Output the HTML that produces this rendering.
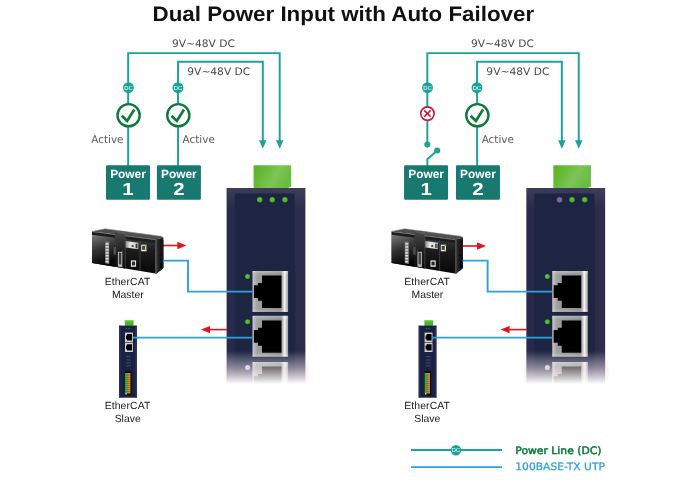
<!DOCTYPE html>
<html lang="en"><head><meta charset="utf-8"><title>Dual Power Input with Auto Failover</title>
<style>html,body{margin:0;padding:0;background:#fff}body{width:700px;height:483px;overflow:hidden}svg{display:block;will-change:transform}text{-webkit-font-smoothing:antialiased;text-rendering:geometricPrecision}</style>
</head><body>
<svg width="700" height="483" viewBox="0 0 700 483"><defs>
<linearGradient id="fade" x1="0" y1="0" x2="0" y2="1"><stop offset="0" stop-color="#fff" stop-opacity="0"/><stop offset="0.3" stop-color="#f3e6ec" stop-opacity=".5"/><stop offset="0.59" stop-color="#fff" stop-opacity="1"/><stop offset="1" stop-color="#fff" stop-opacity="1"/></linearGradient>
<linearGradient id="bodyg" x1="0" y1="0" x2="1" y2="0"><stop offset="0" stop-color="#272a4a"/><stop offset="0.5" stop-color="#282948"/><stop offset="1" stop-color="#2e2b4b"/></linearGradient>
<linearGradient id="greenblk" x1="0" y1="0" x2="1" y2="0.35"><stop offset="0" stop-color="#5ab228"/><stop offset="0.3" stop-color="#66b935"/><stop offset="0.65" stop-color="#7cc556"/><stop offset="1" stop-color="#6cbc44"/></linearGradient>
<linearGradient id="bodytop" x1="0" y1="0" x2="0" y2="1"><stop offset="0" stop-color="#fff" stop-opacity=".09"/><stop offset="1" stop-color="#fff" stop-opacity="0"/></linearGradient>
<radialGradient id="ledg" cx="0.45" cy="0.45" r="0.6"><stop offset="0" stop-color="#66c735"/><stop offset="0.6" stop-color="#52b32c"/><stop offset="1" stop-color="#3c9424"/></radialGradient>
<linearGradient id="portframe" x1="0" y1="0" x2="1" y2="0"><stop offset="0" stop-color="#c6c6c6"/><stop offset="0.13" stop-color="#a0a0a0"/><stop offset="0.8" stop-color="#8c8c8c"/><stop offset="0.905" stop-color="#f4f4f4"/><stop offset="1" stop-color="#9a9a9a"/></linearGradient>
<linearGradient id="portframev" x1="0" y1="0" x2="0" y2="1"><stop offset="0" stop-color="#fff" stop-opacity=".3"/><stop offset="0.1" stop-color="#fff" stop-opacity="0"/><stop offset="0.92" stop-color="#fff" stop-opacity="0"/><stop offset="1" stop-color="#fff" stop-opacity=".25"/></linearGradient>
<linearGradient id="plc" x1="0" y1="0" x2="0" y2="1"><stop offset="0" stop-color="#4a4a4a"/><stop offset="0.45" stop-color="#1c1c1c"/><stop offset="1" stop-color="#070707"/></linearGradient>
<linearGradient id="plcL" x1="0" y1="0" x2="0.25" y2="1"><stop offset="0" stop-color="#7c7c7c"/><stop offset="0.5" stop-color="#333"/><stop offset="1" stop-color="#060606"/></linearGradient>
<linearGradient id="plcM" x1="0" y1="0" x2="0" y2="1"><stop offset="0" stop-color="#4a4a4a"/><stop offset="0.5" stop-color="#232323"/><stop offset="1" stop-color="#0a0a0a"/></linearGradient>
<linearGradient id="plcLabel" x1="0" y1="0" x2="1" y2="0"><stop offset="0" stop-color="#8e8e8e"/><stop offset="0.35" stop-color="#e6e6e2"/><stop offset="1" stop-color="#d2d2cc"/></linearGradient>
</defs><rect width="700" height="483" fill="#fff"/><text x="152.5" y="21.1" font-family="'Liberation Sans',sans-serif" font-weight="700" font-size="21" fill="#111" textLength="381.6" lengthAdjust="spacingAndGlyphs">Dual Power Input with Auto Failover</text><path d="M128.15 166 V53.1 H279.7 V141" fill="none" stroke="#1ca399" stroke-width="1.95"/><path d="M178.05 166 V61.8 H262.8 V141" fill="none" stroke="#1ca399" stroke-width="1.95"/><path d="M259.05 140.2 H266.55 L262.8 148.7 Z" fill="#1ca399"/><path d="M275.95 140.2 H283.45 L279.7 148.7 Z" fill="#1ca399"/><text x="171.9" y="46.8" font-family="'DejaVu Sans','Liberation Sans',sans-serif" font-size="10.4" fill="#4a4a4a" textLength="63" lengthAdjust="spacingAndGlyphs">9V~48V DC</text><text x="187.3" y="75.3" font-family="'DejaVu Sans','Liberation Sans',sans-serif" font-size="10.4" fill="#4a4a4a" textLength="63" lengthAdjust="spacingAndGlyphs">9V~48V DC</text><circle cx="128.45" cy="87.7" r="5.45" fill="#1ca399"/>
<text x="128.45" y="89.7" font-family="'Liberation Sans',sans-serif" font-size="5.9" fill="#fff" text-anchor="middle">DC</text><circle cx="177.95" cy="87.7" r="5.45" fill="#1ca399"/>
<text x="177.95" y="89.7" font-family="'Liberation Sans',sans-serif" font-size="5.9" fill="#fff" text-anchor="middle">DC</text><circle cx="128.6" cy="115.2" r="11.1" fill="#fff" stroke="#0c7a3b" stroke-width="2.4"/>
<path d="M121.85 115.70 L127.15 120.90 L134.30 109.50" fill="none" stroke="#0c7a3b" stroke-width="2.7" stroke-linejoin="miter" stroke-miterlimit="6"/><text x="91.3" y="143.4" font-family="'DejaVu Sans','Liberation Sans',sans-serif" font-size="10.7" fill="#5a5a5a" textLength="32.2" lengthAdjust="spacingAndGlyphs">Active</text><circle cx="178.3" cy="115.2" r="11.1" fill="#fff" stroke="#0c7a3b" stroke-width="2.4"/>
<path d="M171.55 115.70 L176.85 120.90 L184.00 109.50" fill="none" stroke="#0c7a3b" stroke-width="2.7" stroke-linejoin="miter" stroke-miterlimit="6"/><text x="182.6" y="143.4" font-family="'DejaVu Sans','Liberation Sans',sans-serif" font-size="10.7" fill="#5a5a5a" textLength="32.2" lengthAdjust="spacingAndGlyphs">Active</text><rect x="106.0" y="165.2" width="44" height="34.6" rx="1.2" fill="#17796f"/>
<text x="128.0" y="178.1" font-family="'Liberation Sans',sans-serif" font-weight="700" font-size="11.9" fill="#fff" text-anchor="middle">Power</text>
<text transform="translate(128.0 195.0) scale(1.16 1)" x="0" y="0" font-family="'Liberation Sans',sans-serif" font-weight="700" font-size="17.6" fill="#fff" text-anchor="middle">1</text><rect x="156.9" y="165.2" width="44" height="34.6" rx="1.2" fill="#17796f"/>
<text x="178.9" y="178.1" font-family="'Liberation Sans',sans-serif" font-weight="700" font-size="11.9" fill="#fff" text-anchor="middle">Power</text>
<text transform="translate(178.9 195.0) scale(1.16 1)" x="0" y="0" font-family="'Liberation Sans',sans-serif" font-weight="700" font-size="17.6" fill="#fff" text-anchor="middle">2</text><path d="M253.6 165.2 H291.2 V186.5 L287 188.5 H253.6 Z" fill="url(#greenblk)"/><rect x="226.6" y="188" width="78.8" height="200" fill="url(#bodyg)"/><rect x="226.6" y="188" width="78.8" height="22" fill="url(#bodytop)"/><rect x="234.6" y="193.6" width="60.2" height="195" rx="1.5" fill="#1d2543"/><circle cx="259.8" cy="199.8" r="2.7" fill="url(#ledg)"/><circle cx="272.3" cy="199.8" r="2.7" fill="url(#ledg)"/><circle cx="285.0" cy="199.8" r="2.7" fill="url(#ledg)"/><rect x="252.5" y="271" width="35.6" height="40.9" fill="url(#portframe)"/><rect x="252.5" y="271" width="35.6" height="40.9" fill="url(#portframev)"/><path d="M262.0 275.6 H281.5 V308 H262.0 V300.85 H258.0 V298 H253.9 V285.2 H258.0 V282.9 H262.0 Z" fill="#000"/><rect x="252.5" y="315.8" width="35.6" height="40.9" fill="url(#portframe)"/><rect x="252.5" y="315.8" width="35.6" height="40.9" fill="url(#portframev)"/><path d="M262.0 320.40000000000003 H281.5 V352.8 H262.0 V345.65000000000003 H258.0 V342.8 H253.9 V330.0 H258.0 V327.7 H262.0 Z" fill="#000"/><rect x="252.5" y="362.0" width="35.6" height="40.9" fill="url(#portframe)"/><rect x="252.5" y="362.0" width="35.6" height="40.9" fill="url(#portframev)"/><path d="M262.0 366.6 H281.5 V399.0 H262.0 V391.85 H258.0 V389.0 H253.9 V376.2 H258.0 V373.9 H262.0 Z" fill="#000"/><circle cx="247.6" cy="276.6" r="2.5" fill="url(#ledg)"/><circle cx="247.6" cy="321.8" r="2.5" fill="url(#ledg)"/><circle cx="247.6" cy="367.5" r="2.5" fill="#c9c9d2"/><rect x="224.6" y="351" width="84" height="56" fill="url(#fade)"/><path d="M163 245.5 H179" stroke="#e0141c" stroke-width="1.6" fill="none"/><path d="M177.4 241.8 L186.4 245.5 L177.4 249.2 Z" fill="#e0141c"/><path d="M227 329.6 H208" stroke="#e0141c" stroke-width="1.6" fill="none"/><path d="M210 325.9 L201 329.6 L210 333.3 Z" fill="#e0141c"/><polygon points="92.00,231.40 105.10,228.80 161.10,236.30 163.40,237.50 155.40,239.60" fill="#505050"/><polyline points="92.00,231.40 105.10,228.80 161.10,236.30 163.40,237.50" fill="none" stroke="#8a8a8a" stroke-width="0.6"/><polygon points="92.00,231.40 155.40,239.40 155.40,273.40 92.00,262.90" fill="url(#plc)"/><polygon points="92.00,234.60 114.90,237.60 114.90,266.70 92.00,262.90" fill="url(#plcL)"/><polygon points="92.00,231.70 155.40,239.70 155.40,243.00 92.00,234.80" fill="#1d1d1d"/><polygon points="92.00,231.40 155.40,239.40 155.40,240.10 92.00,232.10" fill="#8c8c8c"/><polygon points="155.40,239.40 163.40,237.50 163.40,268.00 156.60,273.70 155.40,273.40" fill="#242424"/><polygon points="155.40,239.40 157.20,239.00 157.20,273.20 156.60,273.70 155.40,273.40" fill="#4a4a4a"/><polygon points="159.60,240.60 163.40,239.60 163.40,268.00 159.60,271.20" fill="#161616"/><circle cx="160.20" cy="255.6" r="0.7" fill="#000"/><rect x="160.60" y="263.5" width="1.3" height="4" fill="#000"/><polygon points="114.90,232.00 118.50,230.90 126.30,232.00 125.10,234.50 125.10,268.60 114.90,266.50" fill="url(#plcM)"/><polygon points="114.90,232.00 118.50,230.90 126.30,232.00 125.10,234.50" fill="#5c5c5c"/><path d="M140.00 240.45 V270.87" stroke="#4d4d4d" stroke-width="0.7" fill="none"/><path d="M125.30 235 V268.4" stroke="#555" stroke-width="0.6" fill="none"/><polygon points="105.10,241.20 109.20,241.80 109.20,263.90 105.10,263.30" fill="#7d7d7d"/><rect x="105.70" y="243.20" width="2.9" height="1.5" fill="#e2e2e2"/><rect x="105.70" y="246.15" width="2.9" height="1.5" fill="#e2e2e2"/><rect x="105.70" y="249.10" width="2.9" height="1.5" fill="#e2e2e2"/><rect x="105.70" y="252.05" width="2.9" height="1.5" fill="#e2e2e2"/><rect x="105.70" y="255.00" width="2.9" height="1.5" fill="#e2e2e2"/><rect x="105.70" y="257.95" width="2.9" height="1.5" fill="#e2e2e2"/><rect x="105.70" y="260.90" width="2.9" height="1.5" fill="#e2e2e2"/><rect x="113.60" y="243.6" width="2.4" height="11" fill="#4f4f4f"/><rect x="114.20" y="244.6" width="1.3" height="2.2" fill="#111"/><polygon points="117.90,249.70 122.30,250.30 122.30,267.20 117.90,266.50" fill="#b8b8b8"/><polygon points="118.90,252.60 121.30,253.00 121.30,264.60 118.90,264.20" fill="#3c3c3c"/><rect x="117.90" y="249.6" width="4.4" height="2.2" fill="#1a1a1a"/><polygon points="125.70,241.10 138.30,242.80 138.30,249.20 125.70,247.60" fill="url(#plcLabel)"/><circle cx="132.60" cy="246.0" r="1.1" fill="#3a3a3a"/><rect x="135.60" y="243.6" width="1.5" height="4.6" fill="#3a3a3a"/><rect x="137.40" y="243.9" width="0.8" height="4.6" fill="#555"/><rect x="130.90" y="260.4" width="5.2" height="6.4" fill="#ededed"/><rect x="131.90" y="261.6" width="3.2" height="3.8" fill="#2a2a2a"/><rect x="141.20" y="244.7" width="5.2" height="6.6" fill="#e9e9e9"/><rect x="142.10" y="245.8" width="3.1" height="4" fill="#3a4a42"/><circle cx="146.00" cy="245.4" r="0.8" fill="#3fae3a"/><circle cx="145.90" cy="250.6" r="0.8" fill="#e89a2a"/><rect x="124.8" y="320.4" width="8.8" height="5.6" fill="#4fb52e"/><rect x="124.8" y="320.4" width="8.8" height="1.2" fill="#6fd043"/><rect x="119.1" y="325.6" width="17.7" height="72.1" fill="#1a2143"/><rect x="119.1" y="325.6" width="1.5" height="72.1" fill="#2a2f57"/><rect x="135.3" y="325.6" width="1.5" height="72.1" fill="#2a2f57"/><circle cx="126.6" cy="328.3" r="0.5" fill="#4fc13a"/><circle cx="129.2" cy="328.3" r="0.5" fill="#4fc13a"/><rect x="125" y="332.6" width="7.9" height="9.5" fill="#cfcfcf"/><path d="M127 334.1 H132 V340.6 H127 V339.3 H126 V335.40000000000003 H127 Z" fill="#000"/><rect x="125" y="342.7" width="7.9" height="9.3" fill="#cfcfcf"/><path d="M127 344.2 H132 V350.5 H127 V349.2 H126 V345.5 H127 Z" fill="#000"/><circle cx="131.6" cy="342.2" r="0.8" fill="#39c038"/><rect x="126.3" y="356.4" width="4.6" height="0.7" fill="#555d86"/><rect x="126.3" y="359.6" width="4.6" height="0.7" fill="#555d86"/><rect x="126.3" y="362.6" width="4.6" height="0.7" fill="#555d86"/><rect x="126.3" y="365.6" width="4.6" height="0.7" fill="#555d86"/><rect x="125" y="371" width="6.6" height="24.2" fill="#0a0a0a"/><rect x="125.1" y="373" width="4" height="20.6" fill="#5aa93a"/><rect x="128.4" y="373" width="2" height="20.6" fill="#e8862a"/><rect x="125.1" y="374.80" width="5.3" height="0.5" fill="#3a3a20" opacity=".6"/><rect x="125.1" y="376.85" width="5.3" height="0.5" fill="#3a3a20" opacity=".6"/><rect x="125.1" y="378.90" width="5.3" height="0.5" fill="#3a3a20" opacity=".6"/><rect x="125.1" y="380.95" width="5.3" height="0.5" fill="#3a3a20" opacity=".6"/><rect x="125.1" y="383.00" width="5.3" height="0.5" fill="#3a3a20" opacity=".6"/><rect x="125.1" y="385.05" width="5.3" height="0.5" fill="#3a3a20" opacity=".6"/><rect x="125.1" y="387.10" width="5.3" height="0.5" fill="#3a3a20" opacity=".6"/><rect x="125.1" y="389.15" width="5.3" height="0.5" fill="#3a3a20" opacity=".6"/><rect x="125.1" y="391.20" width="5.3" height="0.5" fill="#3a3a20" opacity=".6"/><rect x="125.1" y="393.25" width="5.3" height="0.5" fill="#3a3a20" opacity=".6"/><rect x="125.4" y="393.2" width="1.4" height="1.4" fill="#e8e8e8"/><path d="M163 260.6 H188 V291.6 H252.8" fill="none" stroke="#2ba1de" stroke-width="1.9"/><path d="M132.9 337.6 H252.8" fill="none" stroke="#2ba1de" stroke-width="1.9"/><text x="104.7" y="285" font-family="'Liberation Sans',sans-serif" font-size="10.4" fill="#242021" textLength="45.6" lengthAdjust="spacing">EtherCAT</text><text x="127.8" y="297.7" font-family="'Liberation Sans',sans-serif" font-size="10.4" fill="#242021" text-anchor="middle">Master</text><text x="104.7" y="408.8" font-family="'Liberation Sans',sans-serif" font-size="10.4" fill="#242021" textLength="45.6" lengthAdjust="spacing">EtherCAT</text><text x="127.7" y="421.8" font-family="'Liberation Sans',sans-serif" font-size="10.4" fill="#242021" text-anchor="middle">Slave</text><path d="M427.35 144.6 V53.1 H578.75 V141" fill="none" stroke="#1ca399" stroke-width="1.95"/><path d="M427.35 166 V159.2 L437.15 150.5" fill="none" stroke="#1ca399" stroke-width="1.95"/><circle cx="427.35" cy="144.6" r="3.05" fill="#1ca399"/><circle cx="437.15" cy="150.5" r="3.05" fill="#1ca399"/><path d="M477.1 166 V61.8 H561.85 V141" fill="none" stroke="#1ca399" stroke-width="1.95"/><path d="M558.1 140.2 H565.6 L561.85 148.7 Z" fill="#1ca399"/><path d="M575.0 140.2 H582.5 L578.75 148.7 Z" fill="#1ca399"/><text x="470.95000000000005" y="46.8" font-family="'DejaVu Sans','Liberation Sans',sans-serif" font-size="10.4" fill="#4a4a4a" textLength="63" lengthAdjust="spacingAndGlyphs">9V~48V DC</text><text x="486.35" y="75.3" font-family="'DejaVu Sans','Liberation Sans',sans-serif" font-size="10.4" fill="#4a4a4a" textLength="63" lengthAdjust="spacingAndGlyphs">9V~48V DC</text><circle cx="427.5" cy="87.7" r="5.45" fill="#1ca399"/>
<text x="427.5" y="89.7" font-family="'Liberation Sans',sans-serif" font-size="5.9" fill="#fff" text-anchor="middle">DC</text><circle cx="477.0" cy="87.7" r="5.45" fill="#1ca399"/>
<text x="477.0" y="89.7" font-family="'Liberation Sans',sans-serif" font-size="5.9" fill="#fff" text-anchor="middle">DC</text><circle cx="427.45000000000005" cy="113.6" r="6.7" fill="#fff" stroke="#cf1235" stroke-width="1.6"/>
<path d="M424.25000000000006 110.39999999999999 L430.65000000000003 116.8 M430.65000000000003 110.39999999999999 L424.25000000000006 116.8" fill="none" stroke="#cf1235" stroke-width="1.6"/><circle cx="477.35" cy="115.2" r="11.1" fill="#fff" stroke="#0c7a3b" stroke-width="2.4"/>
<path d="M470.60 115.70 L475.90 120.90 L483.05 109.50" fill="none" stroke="#0c7a3b" stroke-width="2.7" stroke-linejoin="miter" stroke-miterlimit="6"/><text x="481.65" y="143.4" font-family="'DejaVu Sans','Liberation Sans',sans-serif" font-size="10.7" fill="#5a5a5a" textLength="32.2" lengthAdjust="spacingAndGlyphs">Active</text><rect x="404.05" y="165.2" width="44" height="34.6" rx="1.2" fill="#17796f"/>
<text x="426.05" y="178.1" font-family="'Liberation Sans',sans-serif" font-weight="700" font-size="11.9" fill="#fff" text-anchor="middle">Power</text>
<text transform="translate(426.05 195.0) scale(1.16 1)" x="0" y="0" font-family="'Liberation Sans',sans-serif" font-weight="700" font-size="17.6" fill="#fff" text-anchor="middle">1</text><rect x="455.95000000000005" y="165.2" width="44" height="34.6" rx="1.2" fill="#17796f"/>
<text x="477.95000000000005" y="178.1" font-family="'Liberation Sans',sans-serif" font-weight="700" font-size="11.9" fill="#fff" text-anchor="middle">Power</text>
<text transform="translate(477.95000000000005 195.0) scale(1.16 1)" x="0" y="0" font-family="'Liberation Sans',sans-serif" font-weight="700" font-size="17.6" fill="#fff" text-anchor="middle">2</text><path d="M553.35 165.2 H590.95 V186.5 L586.75 188.5 H553.35 Z" fill="url(#greenblk)"/><rect x="526.35" y="188" width="78.8" height="200" fill="url(#bodyg)"/><rect x="526.35" y="188" width="78.8" height="22" fill="url(#bodytop)"/><rect x="534.35" y="193.6" width="60.2" height="195" rx="1.5" fill="#1d2543"/><circle cx="559.55" cy="199.8" r="2.7" fill="#726c84"/><circle cx="572.05" cy="199.8" r="2.7" fill="url(#ledg)"/><circle cx="584.75" cy="199.8" r="2.7" fill="url(#ledg)"/><rect x="552.25" y="271" width="35.6" height="40.9" fill="url(#portframe)"/><rect x="552.25" y="271" width="35.6" height="40.9" fill="url(#portframev)"/><path d="M561.75 275.6 H581.25 V308 H561.75 V300.85 H557.75 V298 H553.65 V285.2 H557.75 V282.9 H561.75 Z" fill="#000"/><rect x="552.25" y="315.8" width="35.6" height="40.9" fill="url(#portframe)"/><rect x="552.25" y="315.8" width="35.6" height="40.9" fill="url(#portframev)"/><path d="M561.75 320.40000000000003 H581.25 V352.8 H561.75 V345.65000000000003 H557.75 V342.8 H553.65 V330.0 H557.75 V327.7 H561.75 Z" fill="#000"/><rect x="552.25" y="362.0" width="35.6" height="40.9" fill="url(#portframe)"/><rect x="552.25" y="362.0" width="35.6" height="40.9" fill="url(#portframev)"/><path d="M561.75 366.6 H581.25 V399.0 H561.75 V391.85 H557.75 V389.0 H553.65 V376.2 H557.75 V373.9 H561.75 Z" fill="#000"/><circle cx="547.35" cy="276.6" r="2.5" fill="url(#ledg)"/><circle cx="547.35" cy="321.8" r="2.5" fill="url(#ledg)"/><circle cx="547.35" cy="367.5" r="2.5" fill="#c9c9d2"/><rect x="524.35" y="351" width="84" height="56" fill="url(#fade)"/><path d="M462.6 246.0 H478.6" stroke="#e0141c" stroke-width="1.6" fill="none"/><path d="M477.0 242.3 L486.0 246.0 L477.0 249.7 Z" fill="#e0141c"/><path d="M526.6 329.6 H507.6" stroke="#e0141c" stroke-width="1.6" fill="none"/><path d="M509.6 325.9 L500.6 329.6 L509.6 333.3 Z" fill="#e0141c"/><polygon points="391.60,231.40 404.70,228.80 460.70,236.30 463.00,237.50 455.00,239.60" fill="#505050"/><polyline points="391.60,231.40 404.70,228.80 460.70,236.30 463.00,237.50" fill="none" stroke="#8a8a8a" stroke-width="0.6"/><polygon points="391.60,231.40 455.00,239.40 455.00,273.40 391.60,262.90" fill="url(#plc)"/><polygon points="391.60,234.60 414.50,237.60 414.50,266.70 391.60,262.90" fill="url(#plcL)"/><polygon points="391.60,231.70 455.00,239.70 455.00,243.00 391.60,234.80" fill="#1d1d1d"/><polygon points="391.60,231.40 455.00,239.40 455.00,240.10 391.60,232.10" fill="#8c8c8c"/><polygon points="455.00,239.40 463.00,237.50 463.00,268.00 456.20,273.70 455.00,273.40" fill="#242424"/><polygon points="455.00,239.40 456.80,239.00 456.80,273.20 456.20,273.70 455.00,273.40" fill="#4a4a4a"/><polygon points="459.20,240.60 463.00,239.60 463.00,268.00 459.20,271.20" fill="#161616"/><circle cx="459.80" cy="255.6" r="0.7" fill="#000"/><rect x="460.20" y="263.5" width="1.3" height="4" fill="#000"/><polygon points="414.50,232.00 418.10,230.90 425.90,232.00 424.70,234.50 424.70,268.60 414.50,266.50" fill="url(#plcM)"/><polygon points="414.50,232.00 418.10,230.90 425.90,232.00 424.70,234.50" fill="#5c5c5c"/><path d="M439.60 240.45 V270.87" stroke="#4d4d4d" stroke-width="0.7" fill="none"/><path d="M424.90 235 V268.4" stroke="#555" stroke-width="0.6" fill="none"/><polygon points="404.70,241.20 408.80,241.80 408.80,263.90 404.70,263.30" fill="#7d7d7d"/><rect x="405.30" y="243.20" width="2.9" height="1.5" fill="#e2e2e2"/><rect x="405.30" y="246.15" width="2.9" height="1.5" fill="#e2e2e2"/><rect x="405.30" y="249.10" width="2.9" height="1.5" fill="#e2e2e2"/><rect x="405.30" y="252.05" width="2.9" height="1.5" fill="#e2e2e2"/><rect x="405.30" y="255.00" width="2.9" height="1.5" fill="#e2e2e2"/><rect x="405.30" y="257.95" width="2.9" height="1.5" fill="#e2e2e2"/><rect x="405.30" y="260.90" width="2.9" height="1.5" fill="#e2e2e2"/><rect x="413.20" y="243.6" width="2.4" height="11" fill="#4f4f4f"/><rect x="413.80" y="244.6" width="1.3" height="2.2" fill="#111"/><polygon points="417.50,249.70 421.90,250.30 421.90,267.20 417.50,266.50" fill="#b8b8b8"/><polygon points="418.50,252.60 420.90,253.00 420.90,264.60 418.50,264.20" fill="#3c3c3c"/><rect x="417.50" y="249.6" width="4.4" height="2.2" fill="#1a1a1a"/><polygon points="425.30,241.10 437.90,242.80 437.90,249.20 425.30,247.60" fill="url(#plcLabel)"/><circle cx="432.20" cy="246.0" r="1.1" fill="#3a3a3a"/><rect x="435.20" y="243.6" width="1.5" height="4.6" fill="#3a3a3a"/><rect x="437.00" y="243.9" width="0.8" height="4.6" fill="#555"/><rect x="430.50" y="260.4" width="5.2" height="6.4" fill="#ededed"/><rect x="431.50" y="261.6" width="3.2" height="3.8" fill="#2a2a2a"/><rect x="440.80" y="244.7" width="5.2" height="6.6" fill="#e9e9e9"/><rect x="441.70" y="245.8" width="3.1" height="4" fill="#3a4a42"/><circle cx="445.60" cy="245.4" r="0.8" fill="#3fae3a"/><circle cx="445.50" cy="250.6" r="0.8" fill="#e89a2a"/><rect x="424.40000000000003" y="320.4" width="8.8" height="5.6" fill="#4fb52e"/><rect x="424.40000000000003" y="320.4" width="8.8" height="1.2" fill="#6fd043"/><rect x="418.70000000000005" y="325.6" width="17.7" height="72.1" fill="#1a2143"/><rect x="418.70000000000005" y="325.6" width="1.5" height="72.1" fill="#2a2f57"/><rect x="434.90000000000003" y="325.6" width="1.5" height="72.1" fill="#2a2f57"/><circle cx="426.20000000000005" cy="328.3" r="0.5" fill="#4fc13a"/><circle cx="428.8" cy="328.3" r="0.5" fill="#4fc13a"/><rect x="424.6" y="332.6" width="7.9" height="9.5" fill="#cfcfcf"/><path d="M426.6 334.1 H431.6 V340.6 H426.6 V339.3 H425.6 V335.40000000000003 H426.6 Z" fill="#000"/><rect x="424.6" y="342.7" width="7.9" height="9.3" fill="#cfcfcf"/><path d="M426.6 344.2 H431.6 V350.5 H426.6 V349.2 H425.6 V345.5 H426.6 Z" fill="#000"/><circle cx="431.20000000000005" cy="342.2" r="0.8" fill="#39c038"/><rect x="425.90000000000003" y="356.4" width="4.6" height="0.7" fill="#555d86"/><rect x="425.90000000000003" y="359.6" width="4.6" height="0.7" fill="#555d86"/><rect x="425.90000000000003" y="362.6" width="4.6" height="0.7" fill="#555d86"/><rect x="425.90000000000003" y="365.6" width="4.6" height="0.7" fill="#555d86"/><rect x="424.6" y="371" width="6.6" height="24.2" fill="#0a0a0a"/><rect x="424.70000000000005" y="373" width="4" height="20.6" fill="#5aa93a"/><rect x="428.0" y="373" width="2" height="20.6" fill="#e8862a"/><rect x="424.70000000000005" y="374.80" width="5.3" height="0.5" fill="#3a3a20" opacity=".6"/><rect x="424.70000000000005" y="376.85" width="5.3" height="0.5" fill="#3a3a20" opacity=".6"/><rect x="424.70000000000005" y="378.90" width="5.3" height="0.5" fill="#3a3a20" opacity=".6"/><rect x="424.70000000000005" y="380.95" width="5.3" height="0.5" fill="#3a3a20" opacity=".6"/><rect x="424.70000000000005" y="383.00" width="5.3" height="0.5" fill="#3a3a20" opacity=".6"/><rect x="424.70000000000005" y="385.05" width="5.3" height="0.5" fill="#3a3a20" opacity=".6"/><rect x="424.70000000000005" y="387.10" width="5.3" height="0.5" fill="#3a3a20" opacity=".6"/><rect x="424.70000000000005" y="389.15" width="5.3" height="0.5" fill="#3a3a20" opacity=".6"/><rect x="424.70000000000005" y="391.20" width="5.3" height="0.5" fill="#3a3a20" opacity=".6"/><rect x="424.70000000000005" y="393.25" width="5.3" height="0.5" fill="#3a3a20" opacity=".6"/><rect x="425.0" y="393.2" width="1.4" height="1.4" fill="#e8e8e8"/><path d="M462.6 260.6 H487.6 V291.6 H552.4000000000001" fill="none" stroke="#2ba1de" stroke-width="1.9"/><path d="M432.5 337.6 H552.4000000000001" fill="none" stroke="#2ba1de" stroke-width="1.9"/><text x="404.3" y="285" font-family="'Liberation Sans',sans-serif" font-size="10.4" fill="#242021" textLength="45.6" lengthAdjust="spacing">EtherCAT</text><text x="427.40000000000003" y="297.7" font-family="'Liberation Sans',sans-serif" font-size="10.4" fill="#242021" text-anchor="middle">Master</text><text x="404.3" y="408.8" font-family="'Liberation Sans',sans-serif" font-size="10.4" fill="#242021" textLength="45.6" lengthAdjust="spacing">EtherCAT</text><text x="427.3" y="421.8" font-family="'Liberation Sans',sans-serif" font-size="10.4" fill="#242021" text-anchor="middle">Slave</text><path d="M411 449.95 H502" stroke="#1ca399" stroke-width="2"/><circle cx="455.95" cy="450.2" r="5.25" fill="#1ca399"/><text x="455.95" y="452.2" font-family="'Liberation Sans',sans-serif" font-size="5.9" fill="#fff" text-anchor="middle">DC</text><path d="M411 467.1 H502" stroke="#2ba1de" stroke-width="1.9"/><text x="515.3" y="453.7" font-family="'DejaVu Sans','Liberation Sans',sans-serif" font-size="10.3" fill="#0c7a3b" stroke="#0c7a3b" stroke-width="0.5" textLength="86.2" lengthAdjust="spacingAndGlyphs">Power Line (DC)</text><text x="515.3" y="470.2" font-family="'DejaVu Sans','Liberation Sans',sans-serif" font-size="10.2" fill="#2ba1de" stroke="#2ba1de" stroke-width="0.25" textLength="89.6" lengthAdjust="spacingAndGlyphs">100BASE-TX UTP</text></svg>
</body></html>
